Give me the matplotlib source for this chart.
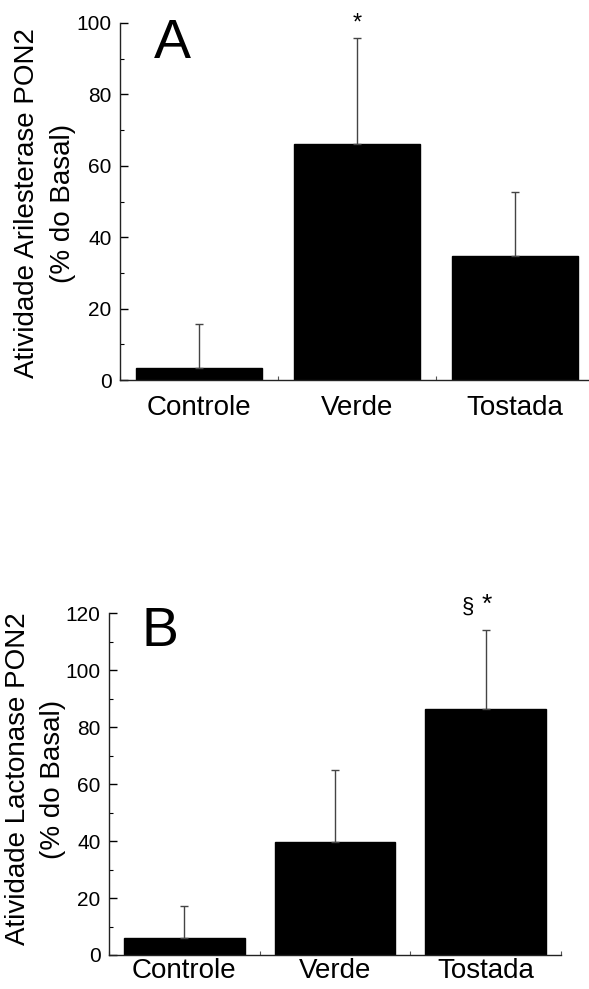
import matplotlib
matplotlib.use("Agg")
import matplotlib.pyplot as plt
import numpy as np
from matplotlib.ticker import MultipleLocator

plt.rcParams['font.family'] = ['Liberation Sans', 'DejaVu Sans']

categories = ["Controle", "Verde", "Tostada"]

# Panel A: Arylesterase activity
a_values = [3.3, 66.2, 34.6]
a_err_top = [15.7, 95.9, 52.7]
# Panel B: Lactonase activity
b_values = [5.9, 39.8, 86.3]
b_err_top = [17.2, 65.0, 114.2]

fig = plt.figure(figsize=(5.89, 9.89), dpi=100)
W, H = 589.0, 989.0

def px_axes(left, right, top, bottom):
    return fig.add_axes([left / W, 1 - bottom / H, (right - left) / W, (bottom - top) / H])

axA = px_axes(120, 589, 23, 380)
axB = px_axes(109, 561, 613.3, 955)

def style(ax, ymax, ystep, xpad, xright):
    x = np.arange(len(categories))
    ax.set_xlim(-0.5, xright)
    ax.set_ylim(0, ymax)
    for s in ['top', 'right']:
        ax.spines[s].set_visible(False)
    for s in ['left', 'bottom']:
        ax.spines[s].set_linewidth(1.0)
        ax.spines[s].set_color('#222222')
    ax.set_xticks(x)
    ax.set_xticklabels(categories, fontsize=20)
    ax.xaxis.set_minor_locator(MultipleLocator(0.25))
    ax.yaxis.set_major_locator(MultipleLocator(ystep))
    ax.yaxis.set_minor_locator(MultipleLocator(ystep / 2))
    ax.tick_params(axis='x', which='both', direction='in', length=3, width=0.8,
                   color='#555555', pad=xpad)
    ax.tick_params(axis='y', which='major', direction='in', length=6, width=1.0,
                   labelsize=15, pad=6)
    ax.tick_params(axis='y', which='minor', direction='in', length=3, width=0.8)

xA = np.arange(len(categories))
axA.bar(xA, a_values, width=0.8, color='black', edgecolor='black', zorder=2)
axA.errorbar(xA, a_values,
             yerr=[np.zeros(3), np.array(a_err_top) - np.array(a_values)],
             fmt='none', ecolor='#444444', elinewidth=1.0, capsize=3, capthick=1.0, zorder=3)
style(axA, 100, 20, 11, 2.47)
axA.text(-0.17, 94, "A", fontsize=40, ha='center', va='center')
axA.text(1, a_err_top[1] + 1.0, "*", fontsize=17, ha='center', va='bottom')

xB = np.arange(len(categories))
axB.bar(xB, b_values, width=0.8, color='black', edgecolor='black', zorder=2)
axB.errorbar(xB, b_values,
             yerr=[np.zeros(3), np.array(b_err_top) - np.array(b_values)],
             fmt='none', ecolor='#444444', elinewidth=1.0, capsize=3, capthick=1.0, zorder=3)
style(axB, 120, 20, 2, 2.5)
axB.text(-0.16, 113.4, "B", fontsize=40, ha='center', va='center')
axB.text(1.88, 122.0, "§", fontsize=16, ha='center', va='center', clip_on=False)
axB.text(2.01, 122.8, "*", fontsize=19, ha='center', va='center', clip_on=False)

fig.text(27 / W, 1 - 203 / H, "Atividade Arilesterase PON2", rotation=90,
         fontsize=20, ha='center', va='center')
fig.text(63 / W, 1 - 203 / H, "(% do Basal)", rotation=90,
         fontsize=20, ha='center', va='center')
fig.text(18 / W, 1 - 779 / H, "Atividade Lactonase PON2", rotation=90,
         fontsize=20, ha='center', va='center')
fig.text(53 / W, 1 - 779 / H, "(% do Basal)", rotation=90,
         fontsize=20, ha='center', va='center')

fig.savefig("out.png", dpi=100, facecolor='white')
